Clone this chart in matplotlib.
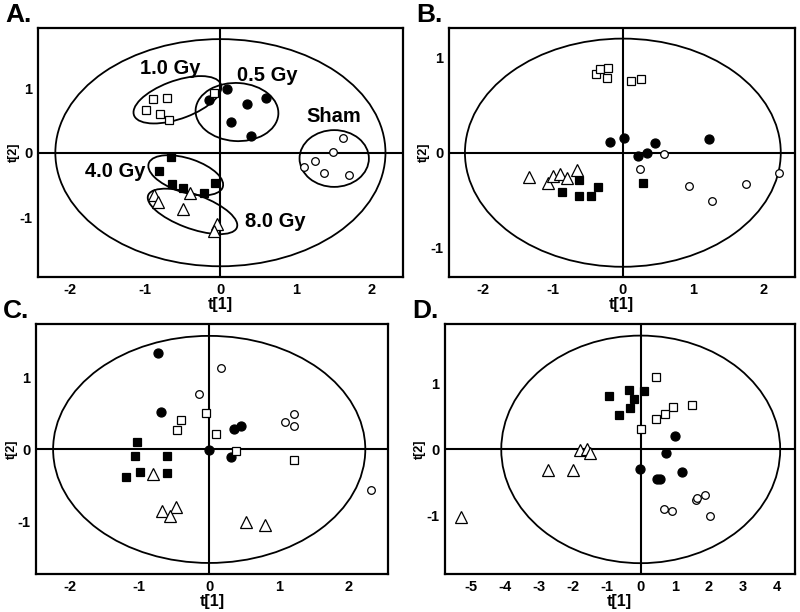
import matplotlib
matplotlib.use("Agg")
import matplotlib.pyplot as plt
from matplotlib.patches import Ellipse

plt.rcParams['font.family'] = ['Liberation Sans', 'DejaVu Sans']
plt.rcParams['font.weight'] = 'bold'
plt.rcParams['axes.unicode_minus'] = False

# =========================
# データ (t[1], t[2])
# =========================
groups = ["Sham", "0.5 Gy", "1.0 Gy", "4.0 Gy", "8.0 Gy"]

# Panel A
a_sham_x = [1.62, 1.49, 1.25, 1.11, 1.37, 1.70]
a_sham_y = [0.22, 0.01, -0.13, -0.22, -0.31, -0.35]
a_05_x = [-0.15, 0.09, 0.35, 0.60, 0.14, 0.41]
a_05_y = [0.82, 0.99, 0.75, 0.84, 0.48, 0.26]
a_10_x = [-0.90, -0.71, -0.99, -0.80, -0.68, -0.09]
a_10_y = [0.83, 0.85, 0.66, 0.60, 0.51, 0.93]
a_40_x = [-0.65, -0.82, -0.64, -0.50, -0.22, -0.07]
a_40_y = [-0.06, -0.28, -0.49, -0.54, -0.63, -0.47]
a_80_x = [-0.88, -0.83, -0.40, -0.50, -0.04, -0.08]
a_80_y = [-0.66, -0.77, -0.62, -0.88, -1.10, -1.21]

# Panel B
b_sham_x = [0.59, 0.25, 0.94, 1.27, 1.75, 2.23]
b_sham_y = [-0.01, -0.17, -0.35, -0.51, -0.33, -0.21]
b_05_x = [-0.19, 0.01, 0.46, 1.23, 0.35, 0.21]
b_05_y = [0.11, 0.15, 0.10, 0.14, 0.00, -0.04]
b_10_x = [-0.38, -0.32, -0.21, -0.23, 0.12, 0.26]
b_10_y = [0.83, 0.88, 0.89, 0.79, 0.75, 0.78]
b_40_x = [-0.63, -0.87, -0.62, -0.45, -0.36, 0.28]
b_40_y = [-0.29, -0.41, -0.46, -0.46, -0.36, -0.32]
b_80_x = [-1.34, -1.07, -0.99, -0.90, -0.80, -0.65]
b_80_y = [-0.26, -0.32, -0.25, -0.22, -0.27, -0.18]

# Panel C
c_sham_x = [0.17, -0.14, 1.22, 1.09, 1.21, 2.32]
c_sham_y = [1.14, 0.77, 0.50, 0.38, 0.33, -0.56]
c_05_x = [-0.74, -0.69, 0.36, 0.45, 0.00, 0.31]
c_05_y = [1.35, 0.52, 0.28, 0.33, -0.01, -0.10]
c_10_x = [-0.41, -0.46, -0.04, 0.10, 0.39, 1.22]
c_10_y = [0.41, 0.27, 0.51, 0.21, -0.02, -0.15]
c_40_x = [-1.04, -1.06, -0.61, -0.99, -0.61, -1.19]
c_40_y = [0.11, -0.09, -0.09, -0.32, -0.33, -0.39]
c_80_x = [-0.81, -0.68, -0.48, -0.56, 0.52, 0.80]
c_80_y = [-0.34, -0.86, -0.81, -0.93, -1.01, -1.06]

# Panel D
d_sham_x = [1.89, 1.63, 1.65, 0.67, 0.93, 2.05]
d_sham_y = [-0.69, -0.76, -0.74, -0.90, -0.94, -1.01]
d_05_x = [1.00, 0.75, -0.02, 1.21, 0.47, 0.57]
d_05_y = [0.21, -0.06, -0.29, -0.35, -0.45, -0.45]
d_10_x = [0.46, 1.50, 0.96, 0.71, 0.45, 0.02]
d_10_y = [1.10, 0.67, 0.64, 0.53, 0.46, 0.31]
d_40_x = [-0.94, -0.35, -0.20, 0.11, -0.32, -0.65]
d_40_y = [0.81, 0.90, 0.77, 0.89, 0.63, 0.52]
d_80_x = [-5.27, -2.72, -1.98, -1.79, -1.59, -1.50]
d_80_y = [-1.03, -0.32, -0.31, -0.01, 0.00, -0.06]

# マーカー (Sham, 0.5, 1.0, 4.0, 8.0)
styles = [
    dict(marker='o', mfc='white', mec='black', ms=5.5),
    dict(marker='o', mfc='black', mec='black', ms=6.5),
    dict(marker='s', mfc='white', mec='black', ms=6),
    dict(marker='s', mfc='black', mec='black', ms=6),
    dict(marker='^', mfc='white', mec='black', ms=8),
]

panels = [
    dict(label="A.", pos=[0.0475, 0.547, 0.456, 0.407],
         xlim=(-2.42, 2.42), ylim=(-1.93, 1.93),
         xticks=[-2, -1, 0, 1, 2], yticks=[-1, 0, 1],
         ell=(4.38, 3.52),
         data=[(a_sham_x, a_sham_y), (a_05_x, a_05_y), (a_10_x, a_10_y),
               (a_40_x, a_40_y), (a_80_x, a_80_y)]),
    dict(label="B.", pos=[0.561, 0.547, 0.4325, 0.407],
         xlim=(-2.48, 2.45), ylim=(-1.31, 1.31),
         xticks=[-2, -1, 0, 1, 2], yticks=[-1, 0, 1],
         ell=(4.5, 2.4),
         data=[(b_sham_x, b_sham_y), (b_05_x, b_05_y), (b_10_x, b_10_y),
               (b_40_x, b_40_y), (b_80_x, b_80_y)]),
    dict(label="C.", pos=[0.045, 0.062, 0.44, 0.4085],
         xlim=(-2.48, 2.56), ylim=(-1.74, 1.75),
         xticks=[-2, -1, 0, 1, 2], yticks=[-1, 0, 1],
         ell=(4.47, 3.17),
         data=[(c_sham_x, c_sham_y), (c_05_x, c_05_y), (c_10_x, c_10_y),
               (c_40_x, c_40_y), (c_80_x, c_80_y)]),
    dict(label="D.", pos=[0.556, 0.062, 0.4375, 0.4085],
         xlim=(-5.76, 4.53), ylim=(-1.89, 1.9),
         xticks=[-5, -4, -3, -2, -1, 0, 1, 2, 3, 4], yticks=[-1, 0, 1],
         ell=(8.2, 3.45),
         data=[(d_sham_x, d_sham_y), (d_05_x, d_05_y), (d_10_x, d_10_y),
               (d_40_x, d_40_y), (d_80_x, d_80_y)]),
]

# パネルAのグループ楕円と注釈 (中心, 幅, 高さ, 角度)
a_group_ell = [
    ((1.51, -0.09), 0.92, 0.88, 0),
    ((0.22, 0.63), 1.10, 0.90, -5),
    ((-0.57, 0.82), 1.25, 0.58, 24),
    ((-0.46, -0.35), 1.05, 0.52, -22),
    ((-0.37, -0.91), 1.28, 0.52, -24),
]
a_group_txt = [(1.50, 0.56), (0.62, 1.19), (-0.66, 1.31), (-1.39, -0.29), (0.73, -1.07)]

fig = plt.figure(figsize=(8, 6.12), dpi=100)

for i, p in enumerate(panels):
    ax = fig.add_axes(p["pos"])
    ax.set_xlim(*p["xlim"])
    ax.set_ylim(*p["ylim"])
    ax.axhline(0, color='black', lw=1.5, zorder=1)
    ax.axvline(0, color='black', lw=1.5, zorder=1)
    w, h = p["ell"]
    ax.add_patch(Ellipse((0, 0), w, h, fill=False, ec='black', lw=1.3, zorder=1))

    for (xs, ys), st in zip(p["data"], styles):
        ax.plot(xs, ys, ls='none', mew=0.9, zorder=3, **st)

    if i == 0:
        for (c, ew, eh, ang), (tx, ty), g in zip(a_group_ell, a_group_txt, groups):
            ax.add_patch(Ellipse(c, ew, eh, angle=ang, fill=False, ec='black',
                                 lw=1.3, zorder=2))
            ax.text(tx, ty, g, ha='center', va='center', fontsize=14.5,
                    fontweight='bold')

    ax.set_xticks(p["xticks"])
    ax.set_xticklabels([str(t) for t in p["xticks"]])
    ax.set_yticks(p["yticks"])
    ax.set_yticklabels([str(t) for t in p["yticks"]])
    ax.tick_params(length=0, labelsize=10.5, pad=4)
    for lab in ax.get_xticklabels() + ax.get_yticklabels():
        lab.set_fontweight('bold')
    ax.set_xlabel("t[1]", fontsize=11.5, fontweight='bold', labelpad=0)
    ax.set_ylabel("t[2]", fontsize=9, fontweight='bold', labelpad=0)
    for s in ax.spines.values():
        s.set_linewidth(1.6)

    x0, y0, pw, ph = p["pos"]
    fig.text(x0 - 0.041, y0 + ph + 0.002, p["label"], fontsize=19,
             fontweight='bold', ha='left', va='bottom')

plt.savefig("out.png", dpi=100)
plt.close()
